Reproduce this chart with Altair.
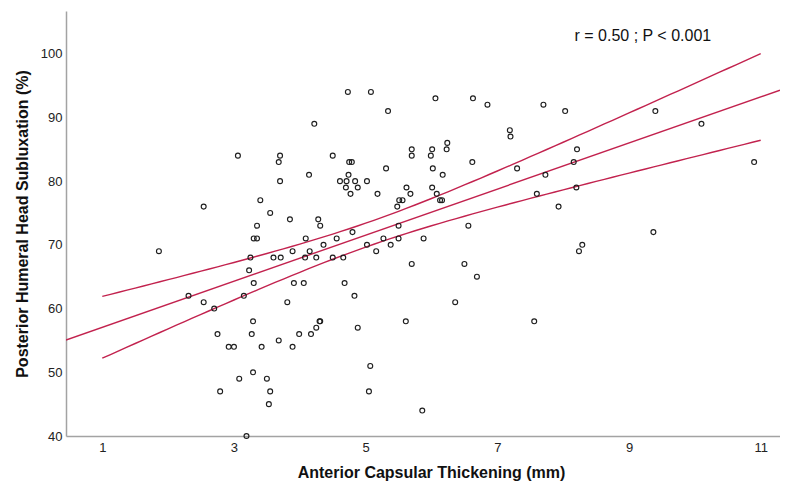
import altair as alt
import pandas as pd
import numpy as np

# ---- data ----
thickness = [
    1.86, 2.31, 2.54, 2.54, 2.70, 2.75, 2.79, 2.92, 3.00, 3.06,
    3.08, 3.15, 3.19, 3.23, 3.25, 3.27, 3.29, 3.29, 3.30, 3.30,
    3.35, 3.35, 3.40, 3.42, 3.50, 3.53, 3.55, 3.55, 3.60, 3.68,
    3.68, 3.70, 3.70, 3.71, 3.81, 3.85, 3.89, 3.89, 3.91, 3.99,
    4.06, 4.08, 4.09, 4.15, 4.14, 4.17, 4.22, 4.25, 4.25, 4.28,
    4.30, 4.31, 4.31, 4.36, 4.50, 4.50, 4.56, 4.61, 4.66, 4.68,
    4.70, 4.71, 4.73, 4.74, 4.75, 4.77, 4.79, 4.80, 4.83, 4.84,
    4.88, 4.88, 5.02, 5.02, 5.05, 5.07, 5.08, 5.16, 5.18, 5.27,
    5.31, 5.34, 5.38, 5.48, 5.50, 5.50, 5.51, 5.56, 5.61, 5.62,
    5.68, 5.70, 5.70, 5.70, 5.86, 5.88, 6.01, 5.99, 6.02, 6.01,
    6.06, 6.08, 6.13, 6.16, 6.17, 6.24, 6.23, 6.36, 6.50, 6.56,
    6.62, 6.63, 6.69, 6.85, 7.19, 7.20, 7.30, 7.56, 7.60, 7.70,
    7.73, 7.93, 8.03, 8.16, 8.21, 8.20, 8.24, 8.29, 9.37, 9.40,
    10.10, 10.90,
]
subluxation = [
    69, 62, 61, 76, 60, 56, 47, 54, 54, 84,
    49, 62, 40, 66, 68, 56, 50, 58, 64, 71,
    71, 73, 77, 54, 49, 45, 47, 75, 68, 55,
    83, 84, 80, 68, 61, 74, 69, 54, 64, 56,
    64, 68, 71, 69, 81, 56, 89, 68, 57, 74,
    58, 58, 73, 70, 68, 84, 71, 80, 68, 64,
    79, 80, 94, 81, 83, 78, 83, 72, 62, 80,
    79, 57, 80, 70, 47, 51, 94, 69, 78, 71,
    82, 91, 70, 76, 73, 71, 77, 77, 58, 79,
    78, 85, 84, 67, 44, 71, 85, 84, 82, 79,
    93, 78, 77, 77, 81, 86, 85, 61, 67, 73,
    83, 93, 65, 92, 88, 87, 82, 58, 78, 92,
    81, 76, 91, 83, 85, 79, 69, 70, 72, 91,
    89, 83,
]

x_domain = [0.449, 11.293]
y_domain = [40, 106.7]
x_ticks = [1, 3, 5, 7, 9, 11]
y_ticks = [40, 50, 60, 70, 80, 90, 100]
ci_range = [1, 11]
annotation = ["r = 0.50 ; P < 0.001"]
annotation_pos = [9.21, 102.8]

x_title = "Anterior Capsular Thickening (mm)"
y_title = "Posterior Humeral Head Subluxation (%)"

# ---- linear fit and 95% CI of the mean, computed from the data ----
xa = np.array(thickness)
ya = np.array(subluxation, dtype=float)
n = len(xa)
slope, intercept = np.polyfit(xa, ya, 1)
resid = ya - (intercept + slope * xa)
s = np.sqrt((resid ** 2).sum() / (n - 2))
xbar = xa.mean()
sxx = ((xa - xbar) ** 2).sum()
t_crit = 1.978

grid = np.linspace(ci_range[0], ci_range[1], 81)
hw = t_crit * s * np.sqrt(1.0 / n + (grid - xbar) ** 2 / sxx)
fitg = intercept + slope * grid

ci_df = pd.concat([
    pd.DataFrame({"x": grid, "y": fitg + hw, "band": "upper"}),
    pd.DataFrame({"x": grid, "y": fitg - hw, "band": "lower"}),
])
fit_df = pd.DataFrame({"x": x_domain,
                       "y": [intercept + slope * v for v in x_domain]})
pts = pd.DataFrame({"x": thickness, "y": subluxation})
ann = pd.DataFrame({"x": [annotation_pos[0]], "y": [annotation_pos[1]],
                    "t": annotation})

FONT = "Liberation Sans"
LINE = "#c2224e"

xscale = alt.Scale(domain=x_domain, nice=False, zero=False)
yscale = alt.Scale(domain=y_domain, nice=False, zero=False)

xaxis = alt.Axis(values=x_ticks, title=x_title, labelPadding=5, format="d",
                 titlePadding=10, labelFlush=False, titleX=365)
yaxis = alt.Axis(values=y_ticks, title=y_title, labelPadding=4, format="d",
                 titlePadding=10)

points = alt.Chart(pts).mark_point(
    shape="circle", filled=False, size=24, strokeWidth=1.15, color="#1e1e1e",
    opacity=1,
).encode(
    x=alt.X("x:Q", scale=xscale, axis=xaxis),
    y=alt.Y("y:Q", scale=yscale, axis=yaxis),
)

fit_line = alt.Chart(fit_df).mark_line(color=LINE, strokeWidth=1.4,
                                       clip=True).encode(
    x=alt.X("x:Q", scale=xscale), y=alt.Y("y:Q", scale=yscale))

ci_lines = alt.Chart(ci_df).mark_line(color=LINE, strokeWidth=1.4,
                                      clip=True).encode(
    x=alt.X("x:Q", scale=xscale), y=alt.Y("y:Q", scale=yscale),
    detail="band:N")

text = alt.Chart(ann).mark_text(font=FONT, fontSize=16, color="#111111",
                                align="center", baseline="middle").encode(
    x=alt.X("x:Q", scale=xscale), y=alt.Y("y:Q", scale=yscale), text="t:N")

chart = alt.layer(ci_lines, fit_line, points, text).properties(
    width=714, height=425,
    autosize=alt.AutoSizeParams(type="none"),
    padding={"left": 58, "top": 3, "right": 0, "bottom": 45},
).configure_view(stroke=None).configure_axis(
    grid=False, ticks=False,
    domainColor="#a3a3a3", domainWidth=1.5,
    labelFont=FONT, labelFontSize=13, labelColor="#222222",
    titleFont=FONT, titleFontSize=16, titleFontWeight="bold",
    titleColor="#111111",
)

chart.save("out.html", embed_options={"renderer": "svg", "actions": False})
